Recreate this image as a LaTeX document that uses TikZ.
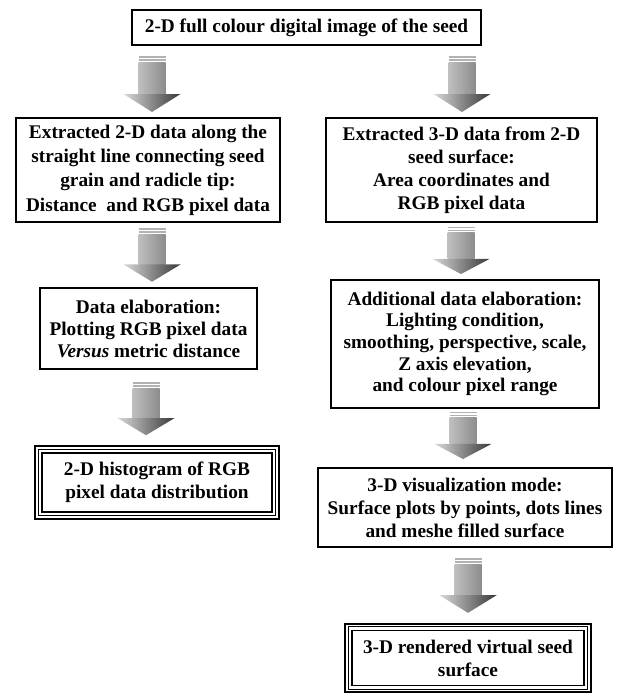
\documentclass[tikz,border=0pt]{standalone}
\usepackage{fontspec}
\setmainfont{Liberation Serif}
\usetikzlibrary{calc}
\begin{document}
\begin{tikzpicture}[x=1pt,y=-1pt,
  box/.style={draw, line width=1.2pt, fill=white, align=center, inner sep=0pt,
    font=\bfseries\fontsize{19.3}{23}\selectfont},
  blockarrow/.pic={
    \fill[gray!60] (-13.5,0) rectangle (13.5,1.6);
    \fill[gray!60] (-13.5,3.2) rectangle (13.5,4.8);
    \shade[left color=gray!50, right color=gray!90] (-13.5,6.4) rectangle (13.5,38);
    \shade[left color=gray!30, right color=black!78] (-28.5,38) -- (28.5,38) -- (0,56) -- cycle;
  }]
\useasboundingbox (0,0) rectangle (617,693);

\node[box, minimum width=349, minimum height=35] (top) at (306.5,27.5)
  {2-D full colour digital image of the seed};

\node[box, minimum width=264, minimum height=104, font=\bfseries\fontsize{19.3}{24.3}\selectfont] (ex2) at (148,170)
  {Extracted 2-D data along the\\ straight line connecting seed\\ grain and radicle tip:\\ Distance\ \ and RGB pixel data};
\node[box, minimum width=271, minimum height=104] (ex3) at (461.5,170)
  {Extracted 3-D data from 2-D\\ seed surface:\\ Area coordinates and\\ RGB pixel data};

\node[box, minimum width=217, minimum height=81, font=\bfseries\fontsize{19.3}{22}\selectfont] (elab) at (148.5,328.5)
  {Data elaboration:\\ Plotting RGB pixel data\\ \textit{Versus} metric distance};

\node[box, minimum width=268, minimum height=128, font=\bfseries\fontsize{19.3}{21.7}\selectfont] (add) at (465,344)
  {Additional data elaboration:\\ Lighting condition,\\ smoothing, perspective, scale,\\ Z axis elevation,\\ and colour pixel range};

\node[box, minimum width=294, minimum height=79] (vis) at (465,507.5)
  {3-D visualization mode:\\ Surface plots by points, dots lines\\ and meshe filled surface};

% double-bordered result boxes
\node[box, line width=1.6pt, minimum width=230, minimum height=59] (hist) at (157,482.5)
  {2-D histogram of RGB\\ pixel data distribution};
\draw[line width=0.8pt] ($(hist.north west)+(-3,-3)$) rectangle ($(hist.south east)+(3,3)$);
\draw[line width=1.8pt] ($(hist.north west)+(-6,-6)$) rectangle ($(hist.south east)+(6,6)$);

\node[box, line width=1.6pt, minimum width=232, minimum height=55] (rend) at (468,658)
  {3-D rendered virtual seed\\ surface};
\draw[line width=0.8pt] ($(rend.north west)+(-3,-3)$) rectangle ($(rend.south east)+(3,3)$);
\draw[line width=1.8pt] ($(rend.north west)+(-6,-6)$) rectangle ($(rend.south east)+(6,6)$);

% block arrows
\pic at (152,56) {blockarrow};
\pic at (462,56) {blockarrow};
\pic[yscale=0.96] at (152,228) {blockarrow};
\pic[yscale=0.84] at (461,227) {blockarrow};
\pic[yscale=0.95] at (146,382) {blockarrow};
\pic[yscale=0.84] at (463,412) {blockarrow};
\pic[yscale=0.98] at (468,558) {blockarrow};
\end{tikzpicture}
\end{document}
